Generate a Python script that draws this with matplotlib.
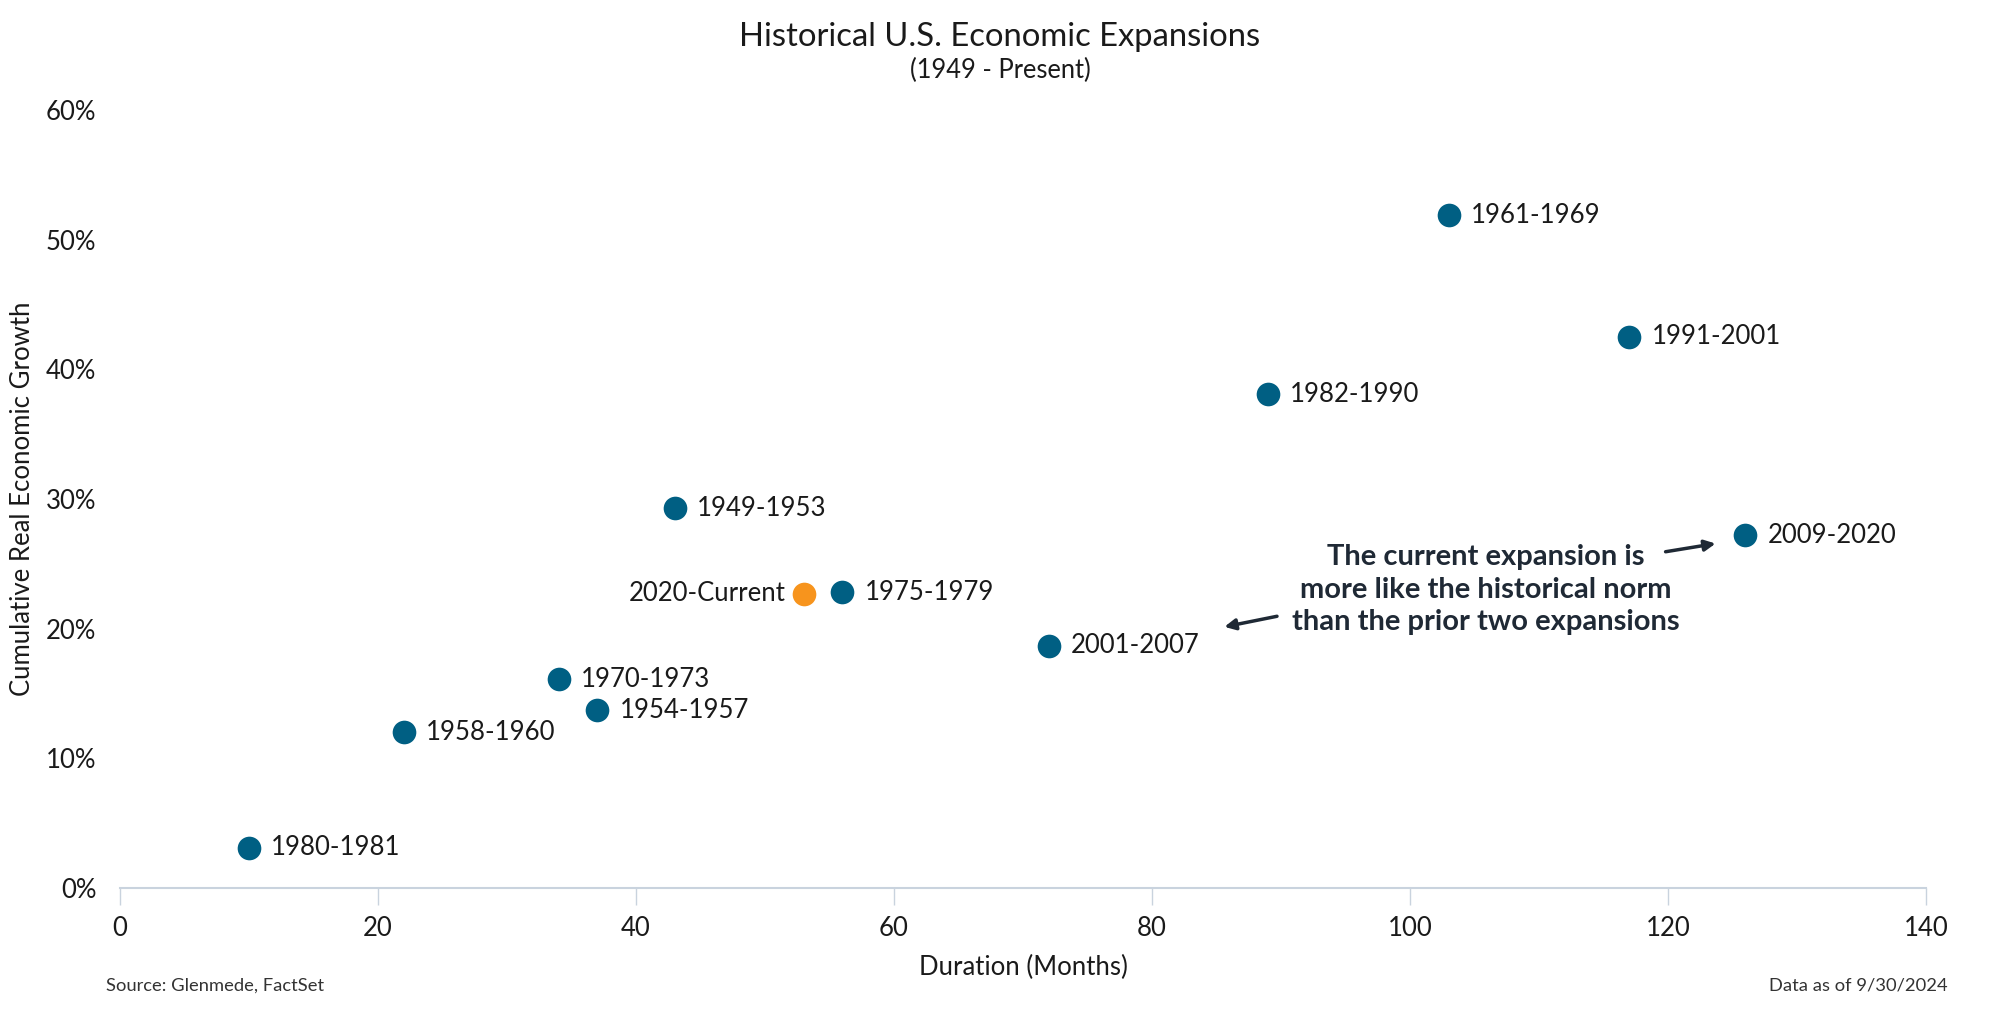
import matplotlib.pyplot as plt
from matplotlib.ticker import PercentFormatter

plt.rcParams['font.family'] = ['Lato', 'DejaVu Sans']

# Expansion periods: duration (months) vs cumulative real growth (%)
labels = ["1980-1981", "1958-1960", "1970-1973", "1954-1957", "1949-1953",
          "1975-1979", "2001-2007", "1982-1990", "1961-1969", "1991-2001",
          "2009-2020"]
months = [10, 22, 34, 37, 43, 56, 72, 89, 103, 117, 126]
growth = [3.1, 12.0, 16.1, 13.7, 29.3, 22.8, 18.7, 38.1, 51.9, 42.5, 27.2]

current_label = "2020-Current"
current_months = 53
current_growth = 22.7

blue = "#005f83"
orange = "#f7941d"
text_col = "#1a1a1a"
note_col = "#1f2935"

fig = plt.figure(figsize=(20, 10.1), dpi=100)
ax = fig.add_axes([0.06, 0.1208, 0.903, 0.7702])

ax.scatter(months, growth, s=290, color=blue, zorder=3, linewidths=0)
ax.scatter([current_months], [current_growth], s=290, color=orange, zorder=3, linewidths=0)

for lab, x, y in zip(labels, months, growth):
    ax.annotate(lab, (x, y), xytext=(16, 0), textcoords="offset points",
                va="center", ha="left", fontsize=18.5, color=text_col)
ax.annotate(current_label, (current_months, current_growth), xytext=(-13, 0),
            textcoords="offset points", va="center", ha="right", fontsize=18.5, color=text_col)

# annotation
ax.text(105.9, 23.0, "The current expansion is\nmore like the historical norm\nthan the prior two expansions",
        ha="center", va="center", fontsize=21, fontweight="bold", color=note_col, linespacing=1.3)
ax.annotate("", xy=(123.9, 26.6), xytext=(119.6, 25.9),
            arrowprops=dict(arrowstyle="-|>", color=note_col, lw=2.5, mutation_scale=16))
ax.annotate("", xy=(85.4, 20.1), xytext=(89.9, 21.0),
            arrowprops=dict(arrowstyle="-|>", color=note_col, lw=2.5, mutation_scale=16))

ax.set_xlim(0, 140)
ax.set_ylim(0, 60)
ax.set_xticks(range(0, 141, 20))
ax.set_yticks(range(0, 61, 10))
ax.yaxis.set_major_formatter(PercentFormatter(decimals=0))

for side in ["top", "right", "left"]:
    ax.spines[side].set_visible(False)
ax.spines["bottom"].set_color("#c9d3de")
ax.spines["bottom"].set_linewidth(1.5)
ax.tick_params(axis="x", length=12, color="#c9d3de", width=1, pad=8, labelsize=18.5, labelcolor=text_col)
ax.tick_params(axis="y", length=0, pad=17, labelsize=18.5, labelcolor=text_col)

ax.set_xlabel("Duration (Months)", fontsize=18.5, color=text_col, labelpad=10)
ax.set_ylabel("Cumulative Real Economic Growth", fontsize=18.5, color=text_col)
ax.yaxis.set_label_coords(-0.047, 0.5)

fig.text(0.5, 0.963, "Historical U.S. Economic Expansions", ha="center", va="center",
         fontsize=23.6, color=text_col)
fig.text(0.5, 0.93, "(1949 - Present)", ha="center", va="center", fontsize=18.4, color=text_col)

fig.text(0.053, 0.024, "Source: Glenmede, FactSet", ha="left", va="center", fontsize=13.2, color="#333333")
fig.text(0.974, 0.024, "Data as of 9/30/2024", ha="right", va="center", fontsize=13.2, color="#333333")

fig.savefig("out.png", dpi=100)
